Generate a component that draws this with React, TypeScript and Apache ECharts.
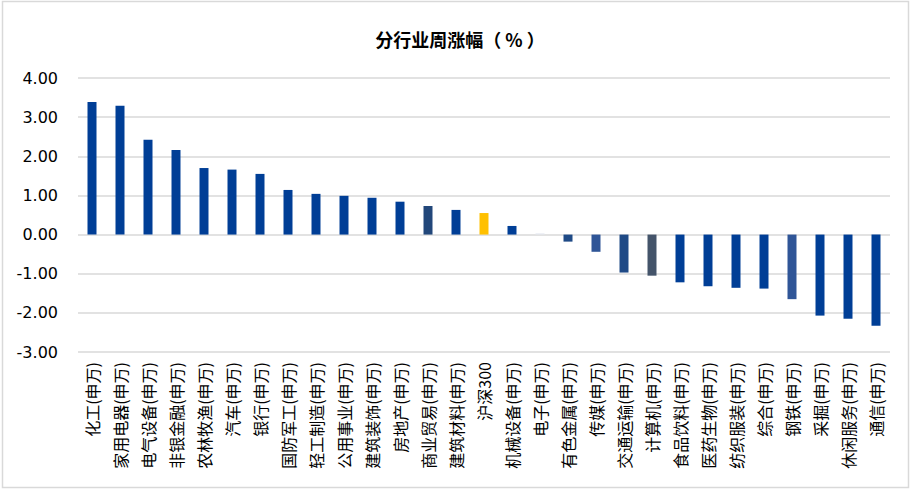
import React, { useEffect, useRef } from "react";
import * as echarts from "echarts";

const categories = [
  "化工(申万)", "家用电器(申万)", "电气设备(申万)", "非银金融(申万)", "农林牧渔(申万)",
  "汽车(申万)", "银行(申万)", "国防军工(申万)", "轻工制造(申万)", "公用事业(申万)",
  "建筑装饰(申万)", "房地产(申万)", "商业贸易(申万)", "建筑材料(申万)", "沪深300",
  "机械设备(申万)", "电子(申万)", "有色金属(申万)", "传媒(申万)", "交通运输(申万)",
  "计算机(申万)", "食品饮料(申万)", "医药生物(申万)", "纺织服装(申万)", "综合(申万)",
  "钢铁(申万)", "采掘(申万)", "休闲服务(申万)", "通信(申万)",
];

const weeklyChange = [
  3.39, 3.29, 2.42, 2.16, 1.70,
  1.66, 1.55, 1.14, 1.04, 0.99,
  0.94, 0.84, 0.73, 0.63, 0.55,
  0.22, 0.03, -0.18, -0.44, -0.97,
  -1.05, -1.22, -1.32, -1.36, -1.38,
  -1.65, -2.07, -2.15, -2.33,
];

const yTicks = [-3, -2, -1, 0, 1, 2, 3, 4];

const baseColor = "#003E96";
const specialColors: Record<string, string> = {
  "商业贸易(申万)": "#22477A",
  "沪深300": "#FFC000",
  "电子(申万)": "#E4E8F0",
  "有色金属(申万)": "#1F4A86",
  "传媒(申万)": "#2F5597",
  "交通运输(申万)": "#1F4A86",
  "计算机(申万)": "#44546A",
  "钢铁(申万)": "#2F5597",
};

export default function App() {
  const ref = useRef<HTMLDivElement>(null);
  useEffect(() => {
    if (!ref.current) return;
    const chart = echarts.init(ref.current, undefined, { renderer: "svg" });
    chart.setOption({
      animation: false,
      backgroundColor: "#FFFFFF",
      title: {
        text: "分行业周涨幅（ % ）",
        left: 455,
        textAlign: "center",
        top: 25,
        textStyle: {
          fontFamily: "Noto Sans CJK SC",
          fontSize: 18,
          fontWeight: "bold",
          color: "#000000",
        },
      },
      graphic: [
        {
          type: "rect",
          shape: { x: 2.5, y: 1.5, width: 906, height: 486 },
          style: { fill: "none", stroke: "#D9D9D9", lineWidth: 1.5 },
          silent: true,
        },
      ],
      grid: { left: 78, right: 22, top: 78, bottom: 139, containLabel: false },
      xAxis: {
        type: "category",
        data: categories,
        axisLine: { show: false, onZero: false },
        axisTick: { show: false },
        axisLabel: {
          rotate: 90,
          interval: 0,
          margin: 10,
          fontFamily: "Noto Sans CJK SC",
          fontSize: 16,
          color: "#000000",
        },
      },
      yAxis: {
        type: "value",
        min: yTicks[0],
        max: yTicks[yTicks.length - 1],
        interval: 1,
        axisLine: { show: false },
        axisTick: { show: false },
        splitLine: { lineStyle: { color: "#D9D9D9", width: 1.5 } },
        axisLabel: {
          margin: 20,
          fontFamily: "DejaVu Sans",
          fontSize: 16,
          color: "#000000",
          formatter: (v: number) => v.toFixed(2),
        },
      },
      series: [
        {
          type: "bar",
          barWidth: 9,
          data: weeklyChange.map((v, i) => ({
            value: v,
            itemStyle: { color: specialColors[categories[i]] ?? baseColor },
          })),
        },
      ],
    });
    return () => chart.dispose();
  }, []);
  return (
    <div
      ref={ref}
      style={{ position: "fixed", left: 0, top: 0, width: 912, height: 491 }}
    />
  );
}
